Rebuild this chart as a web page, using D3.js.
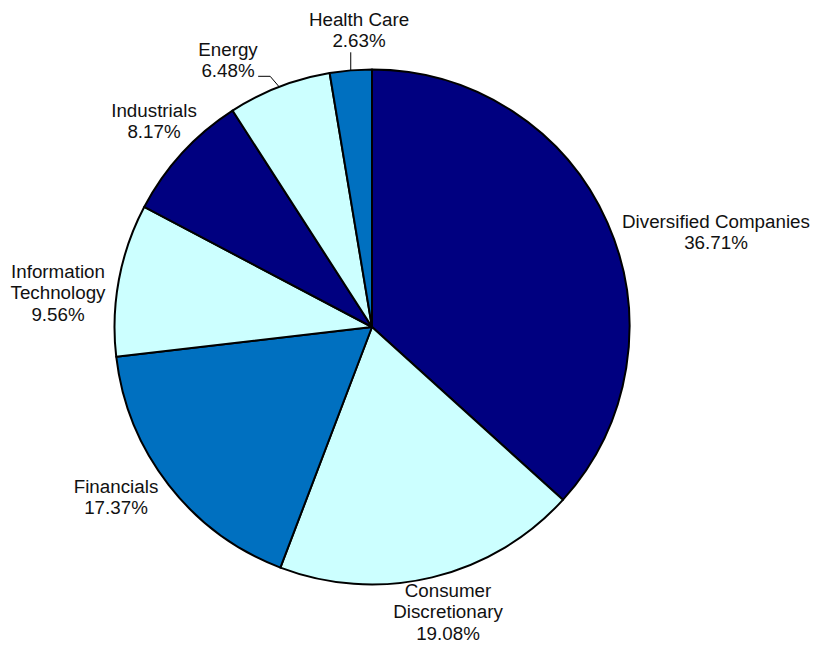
<!DOCTYPE html>
<html>
<head>
<meta charset="utf-8">
<script src="https://cdn.jsdelivr.net/npm/d3@7"></script>
<style>
  body { margin: 0; background: #fff; }
  text { font-family: "Liberation Sans", Arial, sans-serif; font-size: 18.8px; fill: #111; }
</style>
</head>
<body>
<div id="chart"></div>
<script>
var sectors = ["Diversified Companies", "Consumer Discretionary", "Financials",
               "Information Technology", "Industrials", "Energy", "Health Care"];
var weights = [36.71, 19.08, 17.37, 9.56, 8.17, 6.48, 2.63];
var sectorColors = ["#000080", "#CCFFFF", "#0070C0", "#CCFFFF", "#000080", "#CCFFFF", "#0070C0"];

// label text lines (category split the way the chart wraps it)
var labelLines = [
  ["Diversified Companies"],
  ["Consumer", "Discretionary"],
  ["Financials"],
  ["Information", "Technology"],
  ["Industrials"],
  ["Energy"],
  ["Health Care"]
];

// label anchor (centre x, first baseline) relative to pie centre
var labelPos = [[344, -99], [76, 270], [-256, 166], [-314, -49], [-218, -210], [-144, -271], [-13, -301]];

var width = 813, height = 645;
var cx = 372, cy = 327, radius = 257.5;
var lineH = 21.3;

var svg = d3.select('#chart').append('svg')
    .attr('width', width)
    .attr('height', height);

var g = svg.append('g')
    .attr('transform', `translate(${cx}, ${cy})`);

var pie = d3.pie().sort(null).value(d => d.value);
var arc = d3.arc().innerRadius(0).outerRadius(radius);

var data = sectors.map((s, i) => ({name: s, value: weights[i], color: sectorColors[i], lines: labelLines[i], pos: labelPos[i]}));
var arcs = pie(data);

g.selectAll('.slice')
    .data(arcs)
    .enter()
    .append('path')
    .attr('class', 'slice')
    .attr('d', arc)
    .attr('fill', d => d.data.color)
    .attr('stroke', '#000')
    .attr('stroke-width', 2)
    .attr('stroke-linejoin', 'round');

var labels = g.selectAll('.label')
    .data(arcs)
    .enter()
    .append('text')
    .attr('class', 'label')
    .attr('text-anchor', 'middle');

labels.each(function(d) {
  var t = d3.select(this);
  var lines = d.data.lines.concat([d3.format('.2f')(d.data.value) + '%']);
  lines.forEach(function(l, i) {
    t.append('tspan')
      .attr('x', d.data.pos[0])
      .attr('y', d.data.pos[1] + i * lineH)
      .text(l);
  });
});

// leader lines for the two small slices at the top
function edgePoint(d) {
  var a = (d.startAngle + d.endAngle) / 2;
  return [Math.sin(a) * radius, -Math.cos(a) * radius];
}

var hc = arcs[6], en = arcs[5];
var hp = edgePoint(hc);
g.append('path')
    .attr('d', d3.line()([[hp[0], hc.data.pos[1] + lineH + 5], hp]))
    .attr('fill', 'none')
    .attr('stroke', '#000')
    .attr('stroke-width', 1);

var ep = edgePoint(en);
var ey = en.data.pos[1] + lineH - 1;
g.append('path')
    .attr('d', d3.line()([ep, [ep[0] - 9, ey], [ep[0] - 21, ey]]))
    .attr('fill', 'none')
    .attr('stroke', '#000')
    .attr('stroke-width', 1);
</script>
</body>
</html>
